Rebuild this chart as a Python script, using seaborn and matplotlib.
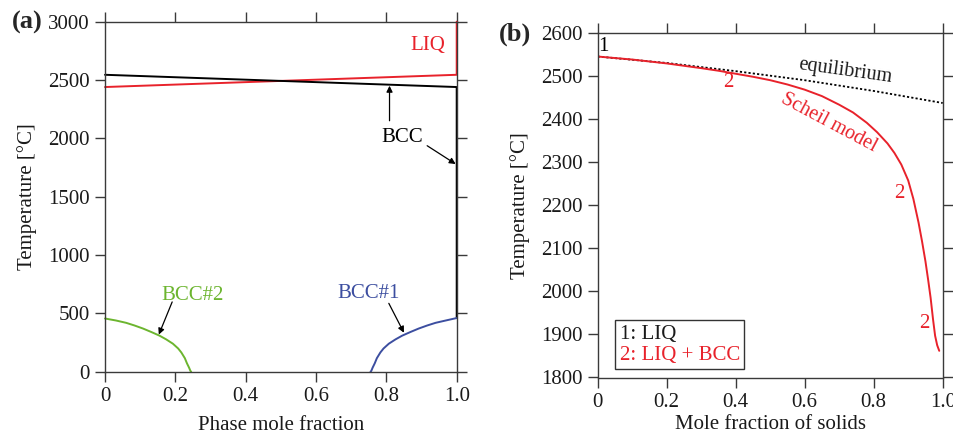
import matplotlib
matplotlib.use("Agg")
import matplotlib.pyplot as plt
import seaborn as sns
from matplotlib.lines import Line2D

sns.set_theme(style="white")
plt.rcParams['font.family'] = ['Liberation Serif', 'DejaVu Serif']

RED = '#e8222b'
GREEN = '#6cb52f'
BLUE = '#3c4ea0'
SPINE = '#3a3a3a'

# ---- panel (a) data ----
liq_x = [0.0, 1.0, 1.0]
liq_t = [2440, 2545, 3000]
bcc_x = [0.0, 1.0, 1.0]
bcc_t = [2545, 2440, 460]
bcc2_x = [0.0, 0.031, 0.06, 0.084, 0.108, 0.131, 0.155, 0.174, 0.193, 0.208,
          0.217, 0.227, 0.233, 0.239, 0.243, 0.245]
bcc2_t = [456, 439, 419, 396, 370, 341, 309, 277, 240, 199, 165, 116, 72, 35, 6, 0]
bcc1_x = [0.755, 0.757, 0.761, 0.767, 0.773, 0.783, 0.792, 0.807, 0.826, 0.845,
          0.869, 0.892, 0.916, 0.94, 0.969, 1.0]
bcc1_t = [0, 6, 35, 72, 116, 165, 199, 240, 277, 309, 341, 370, 396, 419, 439, 460]
a_xticks = [0, 0.2, 0.4, 0.6, 0.8, 1.0]
a_xticklabels = ['0', '0.2', '0.4', '0.6', '0.8', '1.0']
a_yticks = [0, 500, 1000, 1500, 2000, 2500, 3000]

# ---- panel (b) data ----
eq_x = [0.0, 0.2, 0.4, 0.6, 0.8, 1.0]
eq_t = [2546, 2531, 2512, 2491, 2466, 2438]
sch_x = [0.0, 0.1, 0.2, 0.3, 0.35, 0.4, 0.45, 0.5, 0.55, 0.6, 0.65, 0.7, 0.74,
         0.78, 0.81, 0.84, 0.86, 0.88, 0.9, 0.915, 0.93, 0.94, 0.95, 0.958,
         0.965, 0.972, 0.978, 0.984, 0.99]
sch_t = [2546, 2539, 2530, 2519, 2513, 2506, 2499, 2491, 2481, 2469, 2454, 2434,
         2416, 2392, 2370, 2344, 2322, 2295, 2258, 2215, 2160, 2117, 2070, 2026,
         1985, 1935, 1897, 1875, 1862]
b_xticks = [0, 0.2, 0.4, 0.6, 0.8, 1.0]
b_xticklabels = ['0', '0.2', '0.4', '0.6', '0.8', '1.0']
b_yticks = [1800, 1900, 2000, 2100, 2200, 2300, 2400, 2500, 2600]

fig = plt.figure(figsize=(9.54, 4.34), dpi=100)
axA = fig.add_axes([105/954, (434-371.7)/434, 351.7/954, 350/434])
axB = fig.add_axes([597.7/954, (434-377.5)/434, 345/954, 344.2/434])

FS = 15

def style(ax):
    for s in ax.spines.values():
        s.set_color(SPINE)
        s.set_linewidth(1.0)
    ax.tick_params(direction='out', length=7, width=1, color=SPINE,
                   labelsize=FS, labelcolor='#1a1a1a', pad=4,
                   top=True, right=True, bottom=True, left=True,
                   labeltop=False, labelright=False)
    ax.grid(False)

# ---- panel (a) ----
sns.lineplot(x=liq_x, y=liq_t, sort=False, estimator=None, color=RED, lw=1.4, ax=axA)
sns.lineplot(x=bcc_x, y=bcc_t, sort=False, estimator=None, color='black', lw=1.4, ax=axA)
sns.lineplot(x=bcc2_x, y=bcc2_t, sort=False, estimator=None, color=GREEN, lw=1.4, ax=axA)
sns.lineplot(x=bcc1_x, y=bcc1_t, sort=False, estimator=None, color=BLUE, lw=1.4, ax=axA)
for ln in axA.get_lines():
    ln.set_clip_on(False)
axA.set_xlim(0, 1)
axA.set_ylim(0, 3000)
axA.set_xticks(a_xticks)
axA.set_xticklabels(a_xticklabels)
axA.set_yticks(a_yticks)
style(axA)
axA.set_xlabel('Phase mole fraction', fontsize=FS, color='#1a1a1a', labelpad=7)
axA.set_ylabel('Temperature [°C]', fontsize=FS, color='#1a1a1a', labelpad=8)

axA.text(0.917, 2795, 'LIQ', color=RED, fontsize=FS, ha='center', va='center')
axA.text(0.845, 2005, 'BCC', color='black', fontsize=FS, ha='center', va='center')
arr = dict(arrowstyle='-|>', color='black', lw=0.9, mutation_scale=9, shrinkA=0, shrinkB=0)
axA.annotate('', xy=(0.809, 2451), xytext=(0.809, 2151), arrowprops=arr)
axA.annotate('', xy=(0.997, 1780), xytext=(0.916, 1937), arrowprops=arr)
axA.text(0.248, 650, 'BCC#2', color=GREEN, fontsize=FS, ha='center', va='center')
axA.annotate('', xy=(0.153, 318), xytext=(0.191, 598), arrowprops=arr)
axA.text(0.75, 672, 'BCC#1', color=BLUE, fontsize=FS, ha='center', va='center')
axA.annotate('', xy=(0.85, 334), xytext=(0.807, 586), arrowprops=arr)
fig.text(27/954, 1-22/434, '(a)', fontsize=19, fontweight='bold', ha='center', va='center')

# ---- panel (b) ----
sns.lineplot(x=eq_x, y=eq_t, sort=False, estimator=None, color='black', lw=1.3,
             linestyle=(0, (1.2, 1.2)), ax=axB)
sns.lineplot(x=sch_x, y=sch_t, sort=False, estimator=None, color=RED, lw=1.4, ax=axB)
axB.set_xlim(0, 1)
axB.set_ylim(1800, 2600)
axB.set_xticks(b_xticks)
axB.set_xticklabels(b_xticklabels)
axB.set_yticks(b_yticks)
style(axB)
axB.set_xlabel('Mole fraction of solids', fontsize=FS, color='#1a1a1a', labelpad=2)
axB.set_ylabel('Temperature [°C]', fontsize=FS, color='#1a1a1a', labelpad=8)

axB.text(0.016, 2570, '1', color='black', fontsize=FS, ha='center', va='center')
axB.text(0.719, 2511, 'equilibrium', color='#1a1a1a', fontsize=14.5, rotation=-8,
         ha='center', va='center', rotation_mode='anchor')
axB.text(0.379, 2485, '2', color=RED, fontsize=FS, ha='center', va='center')
axB.text(0.669, 2391, 'Scheil model', color=RED, fontsize=14.5, rotation=-28,
         ha='center', va='center', rotation_mode='anchor')
axB.text(0.874, 2228, '2', color=RED, fontsize=FS, ha='center', va='center')
axB.text(0.947, 1926, '2', color=RED, fontsize=FS, ha='center', va='center')

handles = [Line2D([], [], alpha=0), Line2D([], [], alpha=0)]
leg = axB.legend(handles, ['1: LIQ', '2: LIQ + BCC'], loc='lower left',
                 bbox_to_anchor=((615-597.7)/345, (377.5-369.3)/344.2),
                 handlelength=0, handletextpad=0, borderpad=0.22, labelspacing=0.05,
                 frameon=True, fancybox=False, edgecolor='black', fontsize=15,
                 labelcolor=['#1a1a1a', RED], borderaxespad=0)
leg.get_frame().set_linewidth(1.0)
fig.text(515/954, 1-34/434, '(b)', fontsize=19, fontweight='bold', ha='center', va='center')

fig.savefig('out.png', dpi=100)
